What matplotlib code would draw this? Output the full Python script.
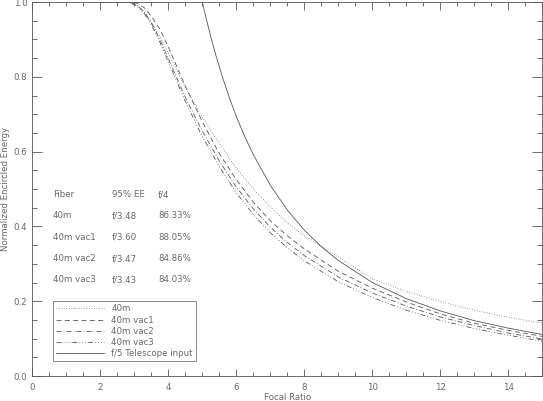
import matplotlib.pyplot as plt
from matplotlib.ticker import MultipleLocator

# === DATA ===
fiber_x = [2.0, 2.6, 2.9, 3.1, 3.3, 3.5, 3.75, 4.0, 4.5, 5.0, 5.5, 6.0, 6.5, 7.0,
           7.5, 8.0, 9.0, 10.0, 11.0, 12.0, 13.0, 14.0, 15.0]
ee_40m = [1.0, 1.0, 0.998, 0.99, 0.973, 0.947, 0.907, 0.863, 0.772, 0.692, 0.622,
          0.555, 0.5, 0.452, 0.41, 0.375, 0.318, 0.26, 0.226, 0.199, 0.176, 0.157, 0.141]
ee_vac1 = [1.0, 1.0, 1.0, 0.996, 0.984, 0.962, 0.928, 0.88, 0.775, 0.68, 0.595,
           0.525, 0.465, 0.415, 0.375, 0.34, 0.28, 0.235, 0.198, 0.166, 0.141, 0.122, 0.106]
ee_vac2 = [1.0, 1.0, 0.998, 0.99, 0.972, 0.945, 0.9, 0.849, 0.745, 0.655, 0.575,
           0.505, 0.447, 0.398, 0.357, 0.322, 0.265, 0.222, 0.187, 0.158, 0.135, 0.115, 0.099]
ee_vac3 = [1.0, 1.0, 0.998, 0.988, 0.968, 0.94, 0.893, 0.84, 0.735, 0.64, 0.56,
           0.49, 0.432, 0.383, 0.343, 0.308, 0.252, 0.21, 0.176, 0.149, 0.127, 0.109, 0.093]

tel_x = [5.0, 5.1, 5.25, 5.4, 5.6, 5.8, 6.0, 6.25, 6.5, 7.0, 7.5, 8.0, 8.5, 9.0,
         10.0, 11.0, 12.0, 13.0, 14.0, 15.0]
ee_tel = [1.0, 0.961, 0.907, 0.857, 0.797, 0.743, 0.694, 0.64, 0.592, 0.51, 0.444,
          0.39, 0.346, 0.309, 0.25, 0.207, 0.174, 0.148, 0.128, 0.111]

table_rows = [['Fiber', '95% EE', 'f/4'],
              ['40m', 'f/3.48', '86.33%'],
              ['40m vac1', 'f/3.60', '88.05%'],
              ['40m vac2', 'f/3.47', '84.86%'],
              ['40m vac3', 'f/3.43', '84.03%']]

# === PLOT ===
grey = '#555555'
tgrey = '#666666'
fs = 6.2
lw = 0.6

fig = plt.figure(figsize=(5.43, 4.01), dpi=100)
ax = fig.add_axes([0.0595, 0.0623, 0.9392, 0.9327])

ax.plot(fiber_x, ee_40m, color=grey, lw=lw, ls=(0, (0.8, 2.2)), label='40m')
ax.plot(fiber_x, ee_vac1, color=grey, lw=lw, ls=(0, (6, 4)), label='40m vac1')
ax.plot(fiber_x, ee_vac2, color=grey, lw=lw, ls=(0, (6, 2.5, 1, 2.5)), label='40m vac2')
ax.plot(fiber_x, ee_vac3, color=grey, lw=lw,
        ls=(0, (6, 2.5, 1, 2.5, 1, 2.5, 1, 2.5)), label='40m vac3')
ax.plot(tel_x, ee_tel, color=grey, lw=lw, ls='-', label='f/5 Telescope input')

ax.set_xlim(0, 15)
ax.set_ylim(0, 1.0)
ax.xaxis.set_major_locator(MultipleLocator(2))
ax.xaxis.set_minor_locator(MultipleLocator(0.5))
ax.yaxis.set_major_locator(MultipleLocator(0.2))
ax.yaxis.set_minor_locator(MultipleLocator(0.05))
ax.xaxis.set_major_formatter(plt.FuncFormatter(lambda v, p: '%d' % v))
ax.yaxis.set_major_formatter(plt.FuncFormatter(lambda v, p: '%.1f' % v))

ax.tick_params(axis='both', which='both', direction='in', top=True, right=True,
               color=grey, width=0.6, labelsize=fs, labelcolor=tgrey)
ax.tick_params(axis='x', which='major', length=5.4, pad=5)
ax.tick_params(axis='x', which='minor', length=2.7)
ax.tick_params(axis='y', which='major', length=7.3, pad=3.5)
ax.tick_params(axis='y', which='minor', length=3.5)
for s in ax.spines.values():
    s.set_color(grey)
    s.set_linewidth(0.6)

ax.set_xlabel('Focal Ratio', fontsize=fs, color=tgrey, labelpad=0.5)
ax.set_ylabel('Normalized Encircled Energy', fontsize=fs, color=tgrey, labelpad=2.5)

# fiber table
col_x = [0.61, 2.34, 3.70]
row_y = [0.485, 0.429, 0.371, 0.313, 0.257]
for r, row in enumerate(table_rows):
    for c, txt in enumerate(row):
        ax.text(col_x[c], row_y[r], txt, fontsize=fs, color=tgrey, va='center', ha='left')

leg = ax.legend(loc='lower left', bbox_to_anchor=(0.041, 0.04), fontsize=fs,
                frameon=True, fancybox=False, edgecolor=grey, borderpad=0.35,
                labelspacing=0.25, handlelength=5.6, handletextpad=0.8,
                borderaxespad=0)
leg.get_frame().set_linewidth(0.6)
for t in leg.get_texts():
    t.set_color(tgrey)

fig.savefig('out.png', dpi=100)
